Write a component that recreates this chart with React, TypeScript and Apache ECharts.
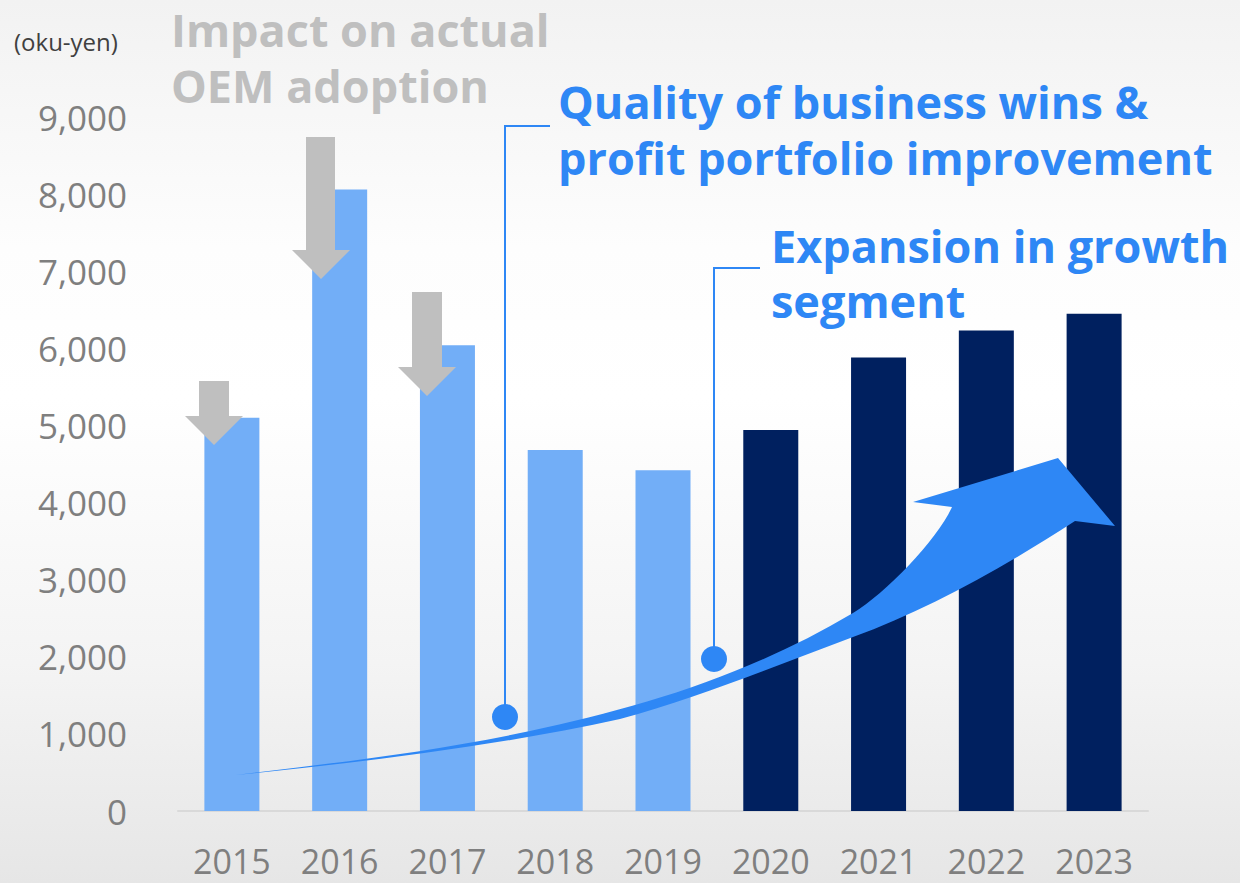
import React, { useEffect, useRef } from "react";
import * as echarts from "echarts";

const categories = ["2015", "2016", "2017", "2018", "2019", "2020", "2021", "2022", "2023"];
const actualValues: (number | string)[] = [5100, 8060, 6040, 4680, 4420, "-", "-", "-", "-"];
const planValues: (number | string)[] = ["-", "-", "-", "-", "-", 4940, 5880, 6230, 6450];
const yTicks = { min: 0, max: 9000, interval: 1000 };
const unitLabel = "(oku-yen)";
const impactLines = ["Impact on actual", "OEM adoption"];
const qualityLines = ["Quality of business wins &", "profit portfolio improvement"];
const growthLines = ["Expansion in growth", "segment"];

const LIGHT_BLUE = "#72AEF7";
const NAVY = "#00205F";
const ACCENT = "#2E87F5";
const GREY = "#BFBFBF";

const GROWTH_ARROW_D =
  "M236 775 C334 763 432 752 530 731 C638 708 745 677 853 613 C886 593 937 540 952 507 " +
  "L913 502 L1058 458 L1115 526 L1075 521 " +
  "C1001 569 927 610 853 637 C775 666 698 698 620 719 C492 747 364 762 236 775 Z";

let registered = false;
function ensureShapes() {
  if (registered) return;
  echarts.graphic.registerShape("growthArrow", echarts.graphic.extendPath(GROWTH_ARROW_D, {}) as any);
  registered = true;
}

function downArrow(x1: number, x2: number, top: number, headY: number, hx1: number, hx2: number, tipX: number, tipY: number) {
  return {
    type: "polygon",
    shape: {
      points: [
        [x1, top], [x2, top], [x2, headY], [hx2, headY], [tipX, tipY], [hx1, headY], [x1, headY],
      ],
    },
    style: { fill: GREY },
    z: 10,
  };
}

export default function App() {
  const ref = useRef<HTMLDivElement>(null);
  useEffect(() => {
    if (!ref.current) return;
    ensureShapes();
    const chart = echarts.init(ref.current, null, { renderer: "svg" });
    const textFont = (size: number, bold = true) => `${bold ? "bold " : ""}${size}px "Open Sans", sans-serif`;
    chart.setOption({
      animation: false,
      backgroundColor: "transparent",
      grid: { left: 178, right: 92, top: 117, bottom: 72, containLabel: false },
      xAxis: {
        type: "category",
        data: categories,
        axisLine: { show: true, lineStyle: { color: "#D9D9D9", width: 2 } },
        axisTick: { show: false },
        axisLabel: { color: "#7F7F7F", fontSize: 34, lineHeight: 33, fontFamily: "Open Sans", margin: 33 },
      },
      yAxis: {
        type: "value",
        min: yTicks.min,
        max: yTicks.max,
        interval: yTicks.interval,
        splitLine: { show: false },
        axisLine: { show: false },
        axisTick: { show: false },
        axisLabel: {
          color: "#7F7F7F",
          fontSize: 35,
          fontFamily: "Open Sans",
          margin: 51,
          formatter: (v: number) => v.toLocaleString("en-US"),
        },
      },
      series: [
        {
          type: "bar",
          stack: "total",
          data: actualValues,
          barWidth: 55,
          itemStyle: { color: LIGHT_BLUE },
        },
        {
          type: "bar",
          stack: "total",
          data: planValues,
          barWidth: 55,
          itemStyle: { color: NAVY },
        },
      ],
      graphic: [
        {
          type: "text",
          left: 14,
          top: 29,
          style: { text: unitLabel, fill: "#404040", font: textFont(24, false) },
        },
        {
          type: "text",
          style: {
            text: impactLines.join("\n"),
            x: 171,
            y: 1,
            fill: GREY,
            font: textFont(45),
            lineHeight: 56,
            textVerticalAlign: "top",
          },
          z: 5,
        },
        downArrow(199, 229, 381, 416, 185, 243, 214, 445),
        downArrow(306, 335, 137, 250, 292, 350, 321, 279),
        downArrow(412, 442, 292, 367, 398, 456, 427, 396),
        { type: "growthArrow", x: 0, y: 0, style: { fill: ACCENT }, z: 8 },
        {
          type: "polyline",
          shape: { points: [[505, 717], [505, 126], [550, 126]] },
          style: { stroke: ACCENT, lineWidth: 2, fill: null },
          z: 9,
        },
        { type: "circle", shape: { cx: 505, cy: 717, r: 13 }, style: { fill: ACCENT }, z: 9 },
        {
          type: "polyline",
          shape: { points: [[714, 659], [714, 268], [760, 268]] },
          style: { stroke: ACCENT, lineWidth: 2, fill: null },
          z: 9,
        },
        { type: "circle", shape: { cx: 714, cy: 659, r: 13 }, style: { fill: ACCENT }, z: 9 },
        {
          type: "text",
          style: {
            text: qualityLines.join("\n"),
            x: 558,
            y: 73,
            fill: ACCENT,
            font: textFont(45),
            lineHeight: 56,
            textVerticalAlign: "top",
          },
          z: 9,
        },
        {
          type: "text",
          style: {
            text: growthLines.join("\n"),
            x: 771,
            y: 218,
            fill: ACCENT,
            font: textFont(45),
            lineHeight: 55,
            textVerticalAlign: "top",
          },
          z: 9,
        },
      ],
    });
    return () => chart.dispose();
  }, []);
  return (
    <div
      ref={ref}
      style={{
        position: "fixed",
        left: 0,
        top: 0,
        width: 1240,
        height: 883,
        background: "linear-gradient(to bottom, #F2F2F2 0%, #FDFDFD 28%, #FFFFFF 45%, #F4F4F4 75%, #E6E6E6 100%)",
      }}
    />
  );
}
